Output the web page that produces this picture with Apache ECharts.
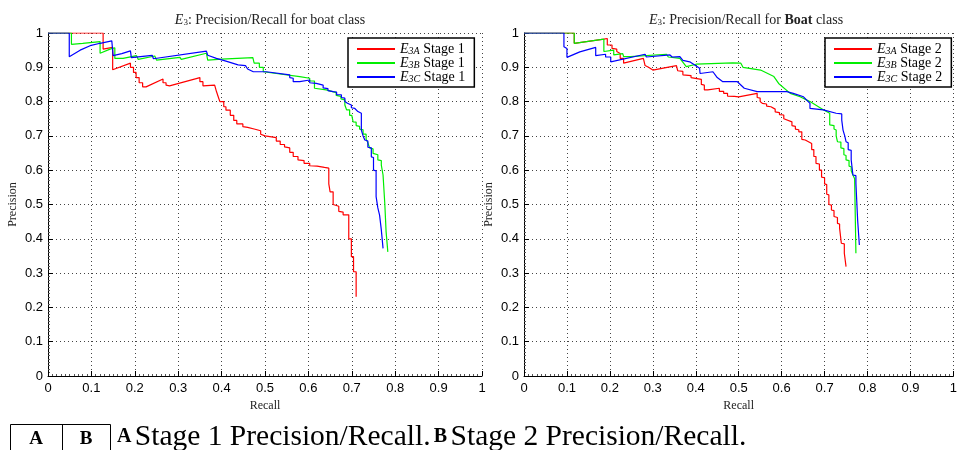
<!DOCTYPE html>
<html><head><meta charset="utf-8">
<script src="https://cdn.jsdelivr.net/npm/echarts@6/dist/echarts.min.js"></script>
<style>html,body{margin:0;padding:0;background:#fff}#c{width:960px;height:450px}</style>
</head><body><div id="c"></div>
<script>
const xTickLabels = ['0','0.1','0.2','0.3','0.4','0.5','0.6','0.7','0.8','0.9','1'];
const yTickLabels = ['0','0.1','0.2','0.3','0.4','0.5','0.6','0.7','0.8','0.9','1'];
const seriesNames1 = ['E3A Stage 1','E3B Stage 1','E3C Stage 1'];
const seriesNames2 = ['E3A Stage 2','E3B Stage 2','E3C Stage 2'];

const redStage1 = [[0,1],[0.127,1],[0.127,0.953],[0.149,0.958],[0.149,0.893],[0.19,0.912],[0.19,0.90],[0.197,0.90],[0.197,0.885],[0.203,0.885],[0.203,0.87],[0.21,0.87],[0.21,0.855],[0.218,0.855],[0.218,0.843],[0.226,0.843],[0.265,0.866],[0.265,0.855],[0.272,0.855],[0.272,0.848],[0.28,0.846],[0.35,0.870],[0.35,0.858],[0.357,0.858],[0.357,0.846],[0.384,0.848],[0.388,0.848],[0.388,0.83],[0.392,0.83],[0.392,0.815],[0.396,0.815],[0.396,0.80],[0.405,0.80],[0.405,0.785],[0.41,0.785],[0.41,0.775],[0.42,0.775],[0.42,0.76],[0.428,0.76],[0.428,0.745],[0.435,0.745],[0.435,0.735],[0.449,0.735],[0.449,0.727],[0.46,0.725],[0.46,0.72],[0.475,0.72],[0.475,0.715],[0.49,0.715],[0.49,0.705],[0.50,0.70],[0.526,0.695],[0.526,0.685],[0.535,0.685],[0.535,0.675],[0.545,0.675],[0.545,0.668],[0.557,0.665],[0.557,0.652],[0.565,0.652],[0.565,0.64],[0.576,0.64],[0.576,0.63],[0.59,0.628],[0.59,0.62],[0.603,0.62],[0.603,0.613],[0.62,0.612],[0.62,0.608],[0.637,0.608],[0.647,0.606],[0.647,0.56],[0.65,0.56],[0.65,0.537],[0.657,0.537],[0.657,0.50],[0.67,0.495],[0.67,0.48],[0.68,0.478],[0.68,0.47],[0.693,0.47],[0.693,0.40],[0.699,0.40],[0.699,0.348],[0.704,0.348],[0.704,0.304],[0.71,0.304],[0.71,0.231]];
const greenStage1 = [[0,1],[0.054,1],[0.054,0.967],[0.08,0.97],[0.12,0.975],[0.12,0.941],[0.143,0.953],[0.154,0.957],[0.154,0.926],[0.173,0.926],[0.204,0.934],[0.208,0.923],[0.246,0.933],[0.25,0.921],[0.304,0.929],[0.307,0.923],[0.365,0.941],[0.368,0.921],[0.40,0.924],[0.472,0.928],[0.475,0.928],[0.475,0.912],[0.487,0.912],[0.487,0.90],[0.496,0.90],[0.496,0.887],[0.526,0.882],[0.53,0.882],[0.53,0.878],[0.58,0.873],[0.603,0.868],[0.603,0.86],[0.614,0.86],[0.614,0.839],[0.641,0.834],[0.641,0.83],[0.664,0.826],[0.664,0.818],[0.675,0.815],[0.675,0.808],[0.684,0.805],[0.684,0.79],[0.688,0.79],[0.688,0.776],[0.695,0.776],[0.695,0.76],[0.70,0.76],[0.703,0.741],[0.71,0.74],[0.71,0.73],[0.718,0.728],[0.718,0.72],[0.726,0.718],[0.726,0.705],[0.733,0.705],[0.733,0.69],[0.737,0.69],[0.737,0.68],[0.741,0.678],[0.741,0.665],[0.749,0.662],[0.749,0.649],[0.76,0.645],[0.76,0.63],[0.768,0.628],[0.768,0.615],[0.772,0.612],[0.772,0.586],[0.776,0.586],[0.776,0.503],[0.779,0.5],[0.779,0.421],[0.783,0.421],[0.783,0.362]];
const blueStage1 = [[0,1],[0.049,1],[0.049,0.931],[0.074,0.950],[0.097,0.963],[0.12,0.97],[0.147,0.977],[0.15,0.977],[0.15,0.934],[0.17,0.94],[0.19,0.948],[0.192,0.928],[0.24,0.935],[0.243,0.925],[0.365,0.947],[0.368,0.935],[0.388,0.926],[0.41,0.918],[0.438,0.907],[0.455,0.905],[0.46,0.895],[0.473,0.887],[0.503,0.887],[0.557,0.878],[0.557,0.87],[0.565,0.868],[0.565,0.858],[0.58,0.858],[0.603,0.863],[0.603,0.855],[0.618,0.853],[0.618,0.848],[0.634,0.848],[0.634,0.84],[0.645,0.838],[0.645,0.832],[0.657,0.829],[0.665,0.828],[0.665,0.82],[0.676,0.82],[0.676,0.812],[0.684,0.81],[0.684,0.80],[0.69,0.795],[0.699,0.79],[0.699,0.782],[0.707,0.78],[0.707,0.775],[0.714,0.771],[0.722,0.766],[0.722,0.717],[0.726,0.717],[0.726,0.70],[0.73,0.70],[0.73,0.688],[0.737,0.685],[0.737,0.667],[0.745,0.665],[0.745,0.639],[0.75,0.637],[0.75,0.60],[0.756,0.598],[0.756,0.523],[0.76,0.522],[0.76,0.49],[0.764,0.488],[0.764,0.469],[0.768,0.467],[0.768,0.426],[0.772,0.424],[0.772,0.372]];

const redStage2 = [[0,1],[0.117,1],[0.117,0.970],[0.186,0.982],[0.194,0.984],[0.194,0.965],[0.205,0.965],[0.205,0.955],[0.216,0.953],[0.216,0.946],[0.224,0.94],[0.224,0.926],[0.232,0.926],[0.232,0.912],[0.278,0.926],[0.282,0.905],[0.29,0.90],[0.30,0.892],[0.355,0.905],[0.358,0.905],[0.358,0.89],[0.37,0.888],[0.37,0.878],[0.389,0.876],[0.389,0.87],[0.413,0.865],[0.413,0.85],[0.42,0.848],[0.42,0.834],[0.428,0.834],[0.455,0.839],[0.455,0.83],[0.465,0.83],[0.465,0.824],[0.474,0.824],[0.474,0.816],[0.49,0.815],[0.49,0.81],[0.5,0.814],[0.543,0.824],[0.543,0.812],[0.55,0.81],[0.55,0.80],[0.555,0.795],[0.565,0.793],[0.565,0.787],[0.575,0.785],[0.575,0.78],[0.585,0.778],[0.585,0.77],[0.595,0.768],[0.595,0.762],[0.605,0.761],[0.605,0.75],[0.609,0.746],[0.624,0.741],[0.624,0.73],[0.632,0.728],[0.632,0.72],[0.64,0.718],[0.64,0.712],[0.647,0.712],[0.647,0.69],[0.655,0.688],[0.655,0.683],[0.67,0.678],[0.67,0.66],[0.675,0.66],[0.675,0.64],[0.68,0.64],[0.68,0.62],[0.688,0.618],[0.688,0.6],[0.693,0.6],[0.693,0.58],[0.70,0.578],[0.70,0.56],[0.705,0.558],[0.705,0.53],[0.71,0.528],[0.71,0.50],[0.716,0.498],[0.716,0.484],[0.722,0.482],[0.722,0.465],[0.73,0.462],[0.73,0.445],[0.735,0.443],[0.735,0.431],[0.739,0.43],[0.739,0.387],[0.746,0.385],[0.746,0.358],[0.75,0.356],[0.75,0.319]];
const greenStage2 = [[0,1],[0.117,1],[0.117,0.970],[0.186,0.982],[0.186,0.946],[0.209,0.95],[0.209,0.936],[0.23,0.94],[0.232,0.931],[0.248,0.931],[0.332,0.938],[0.336,0.930],[0.363,0.926],[0.378,0.902],[0.401,0.909],[0.486,0.913],[0.505,0.912],[0.51,0.90],[0.551,0.892],[0.582,0.873],[0.593,0.853],[0.62,0.824],[0.643,0.814],[0.666,0.80],[0.697,0.776],[0.712,0.766],[0.712,0.732],[0.722,0.73],[0.722,0.72],[0.727,0.717],[0.727,0.70],[0.73,0.70],[0.73,0.683],[0.738,0.682],[0.738,0.665],[0.745,0.663],[0.745,0.645],[0.75,0.643],[0.75,0.63],[0.757,0.628],[0.757,0.612],[0.762,0.61],[0.762,0.598],[0.766,0.596],[0.766,0.586],[0.77,0.584],[0.77,0.575],[0.773,0.573],[0.773,0.358]];
const blueStage2 = [[0,1],[0.093,1],[0.093,0.96],[0.1,0.955],[0.1,0.929],[0.13,0.945],[0.167,0.958],[0.167,0.934],[0.19,0.938],[0.19,0.93],[0.202,0.93],[0.202,0.916],[0.282,0.938],[0.285,0.93],[0.34,0.936],[0.345,0.93],[0.363,0.931],[0.37,0.92],[0.386,0.916],[0.409,0.897],[0.41,0.882],[0.44,0.887],[0.45,0.87],[0.463,0.858],[0.497,0.858],[0.513,0.839],[0.543,0.829],[0.612,0.829],[0.627,0.824],[0.651,0.814],[0.666,0.795],[0.666,0.78],[0.697,0.776],[0.727,0.766],[0.74,0.764],[0.74,0.746],[0.743,0.744],[0.743,0.717],[0.747,0.715],[0.747,0.70],[0.75,0.698],[0.75,0.683],[0.755,0.68],[0.755,0.66],[0.762,0.658],[0.762,0.63],[0.766,0.628],[0.766,0.586],[0.773,0.584],[0.773,0.562],[0.777,0.56],[0.777,0.455],[0.781,0.453],[0.781,0.382]];

const colors = ['#ff0000','#00ee00','#0000ff'];
const serif = '"Liberation Serif", "DejaVu Serif", serif';
const sans = '"Liberation Sans", Arial, sans-serif';

function tickFmt(labels){ return v => labels[Math.round(v*10)] ?? ''; }

function xAx(gi){
  return {type:'value', gridIndex:gi, min:0, max:1, interval:0.1,
    name:'Recall', nameLocation:'middle', nameGap:18,
    nameTextStyle:{fontFamily:serif, fontSize:12, color:'#222'},
    axisLine:{show:true, lineStyle:{color:'#000', width:1}},
    axisTick:{show:true, inside:true, length:5, lineStyle:{color:'#000'}},
    minorTick:{show:true, splitNumber:10, length:2, lineStyle:{color:'#555'}},
    axisLabel:{formatter:tickFmt(xTickLabels), fontFamily:sans, fontSize:13, color:'#000', margin:6},
    splitLine:{show:true, lineStyle:{color:'#444', type:[1,3], width:1}}};
}
function yAx(gi){
  return {type:'value', gridIndex:gi, min:0, max:1, interval:0.1,
    name:'Precision', nameLocation:'middle', nameGap:29, nameRotate:90,
    nameTextStyle:{fontFamily:serif, fontSize:12, color:'#222'},
    axisLine:{show:true, lineStyle:{color:'#000', width:1}},
    axisTick:{show:true, inside:true, length:5, lineStyle:{color:'#000'}},
    minorTick:{show:true, splitNumber:10, length:2, lineStyle:{color:'#555'}},
    axisLabel:{formatter:tickFmt(yTickLabels), fontFamily:sans, fontSize:13, color:'#000', margin:5},
    splitLine:{show:true, lineStyle:{color:'#444', type:[1,3], width:1}}};
}
function mkSeries(name, data, ci, gi){
  return {name, type:'line', xAxisIndex:gi, yAxisIndex:gi, data, showSymbol:false, symbol:'none',
    lineStyle:{color:colors[ci], width:1.2}, itemStyle:{color:colors[ci]}, animation:false, z:2+ci};
}
function legendFmt(name){
  const parts = name.split(' ');
  return '{i|E}{s|' + parts[0].slice(1) + '}{t| ' + parts[1] + ' ' + parts[2] + '}';
}
const legendRich = {
  i:{fontFamily:serif, fontStyle:'italic', fontSize:14, color:'#000', lineHeight:11},
  s:{fontFamily:serif, fontStyle:'italic', fontSize:10, color:'#000', lineHeight:11, padding:[4,0,0,0]},
  t:{fontFamily:serif, fontSize:14, color:'#000', lineHeight:11}
};
function mkLegend(names, left){
  return {data:names, orient:'vertical', left, top:38, padding:[4,9,3,9], itemGap:0,
    itemWidth:38, itemHeight:2, icon:'rect', borderColor:'#000', borderWidth:1.5, backgroundColor:'#fff',
    formatter:legendFmt, textStyle:{rich:legendRich, lineHeight:11}, selectedMode:false, z:10};
}
const titleRich = {
  i:{fontFamily:serif, fontStyle:'italic', fontSize:14, fontWeight:'normal', color:'#222'},
  s:{fontFamily:serif, fontSize:9, fontWeight:'normal', color:'#222', padding:[5,0,0,0]},
  t:{fontFamily:serif, fontSize:14, fontWeight:'normal', color:'#222'},
  b:{fontFamily:serif, fontSize:14, fontWeight:'bold', color:'#222'}
};

const chart = echarts.init(document.getElementById('c'), null, {renderer:'canvas'});
chart.setOption({
  backgroundColor:'#fff',
  animation:false,
  title:[
    {text:'{i|E}{s|3}{t|: Precision/Recall for boat class}', left:265, top:8, textAlign:'center', textStyle:{fontWeight:'normal', rich:titleRich}},
    {text:'{i|E}{s|3}{t|: Precision/Recall for }{b|Boat}{t| class}', left:741, top:8, textAlign:'center', textStyle:{fontWeight:'normal', rich:titleRich}}
  ],
  grid:[
    {left:48, top:33, width:434, height:343},
    {left:524, top:33, width:434, height:343}
  ],
  xAxis:[xAx(0), xAx(1)],
  yAxis:[yAx(0), yAx(1)],
  legend:[mkLegend(seriesNames1, 348), mkLegend(seriesNames2, 825)],
  series:[
    mkSeries(seriesNames1[0], redStage1, 0, 0),
    mkSeries(seriesNames1[1], greenStage1, 1, 0),
    mkSeries(seriesNames1[2], blueStage1, 2, 0),
    mkSeries(seriesNames2[0], redStage2, 0, 1),
    mkSeries(seriesNames2[1], greenStage2, 1, 1),
    mkSeries(seriesNames2[2], blueStage2, 2, 1)
  ],
  graphic:[
    {type:'rect', shape:{x:10.5, y:424.5, width:100, height:30}, style:{fill:'#fff', stroke:'#000', lineWidth:1}},
    {type:'line', shape:{x1:62.5, y1:424.5, x2:62.5, y2:452}, style:{stroke:'#000', lineWidth:1}},
    {type:'text', x:36, y:439, style:{text:'A', font:'bold 19px "Liberation Serif", serif', fill:'#000', align:'center', verticalAlign:'middle'}},
    {type:'text', x:86, y:439, style:{text:'B', font:'bold 19px "Liberation Serif", serif', fill:'#000', align:'center', verticalAlign:'middle'}},
    {type:'text', x:117, y:437, style:{
      text:'{b|A} {t|Stage 1 Precision/Recall.} {b|B} {t|Stage 2 Precision/Recall.}',
      verticalAlign:'middle',
      rich:{b:{font:'bold 20px "Liberation Serif", serif', fill:'#000'}, t:{font:'29.5px "Liberation Serif", serif', fill:'#000'}}
    }}
  ]
});
</script>
</body></html>
